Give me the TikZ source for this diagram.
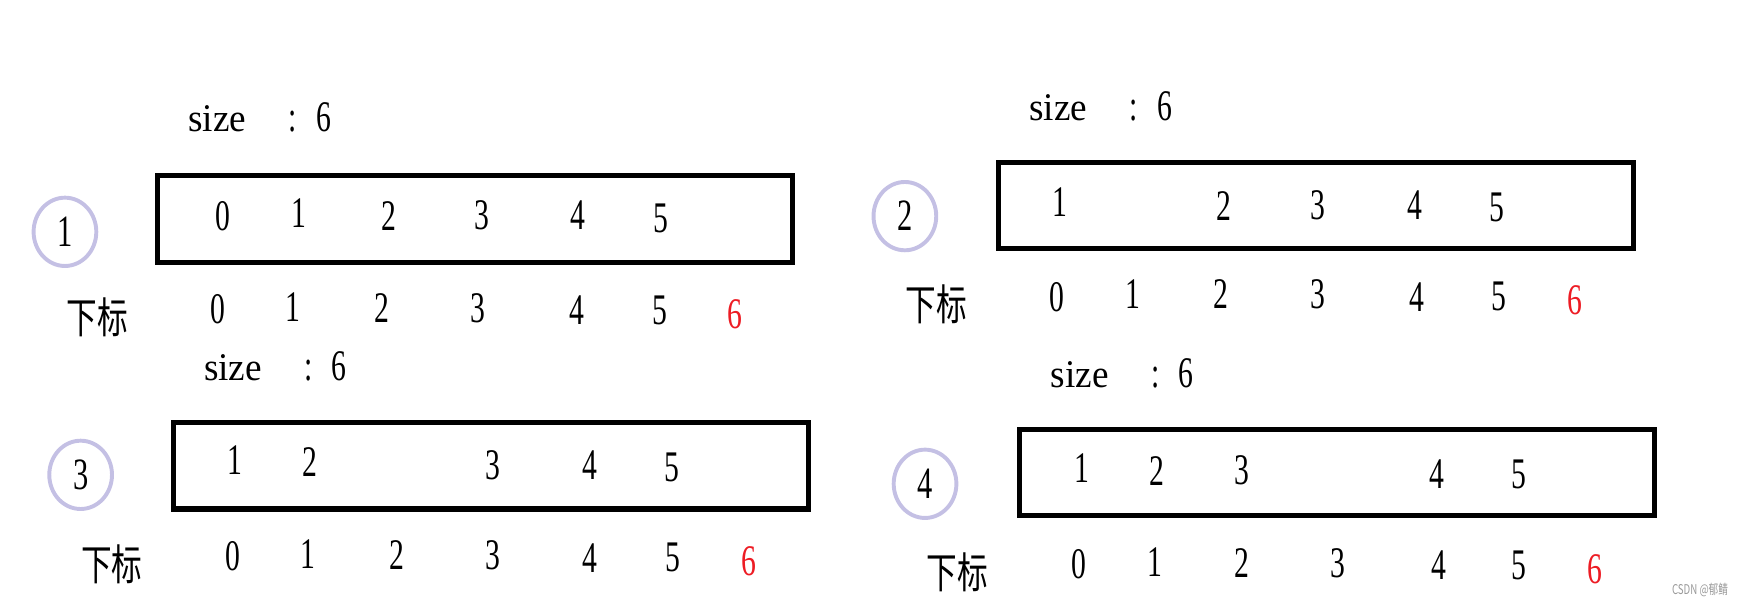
\documentclass[tikz,border=0pt]{standalone}
\usepackage{fontspec}
\usepackage{tikz}
\usetikzlibrary{shapes.geometric}
\newfontfamily\numfont[FakeStretch=0.68]{Liberation Serif}
\newfontfamily\wordfont[FakeStretch=0.95]{Liberation Serif}
\newfontfamily\cjkfont[FakeStretch=0.72]{Noto Sans CJK SC}
\definecolor{lavender}{HTML}{C4C0E4}
\definecolor{outred}{HTML}{ED1C24}
\newcommand{\sizetext}{{\wordfont\fontsize{35}{40}\selectfont size}\hspace{38pt}:\hspace{17pt}6}
\tikzstyle{arr}=[rectangle, draw, line width=4.5pt, minimum width=567pt, minimum height=77pt, inner sep=0pt]
\tikzstyle{tag}=[ellipse, draw=lavender, line width=3.5pt, minimum width=56pt, minimum height=61pt, inner sep=0pt, font=\numfont\fontsize{40}{42}\selectfont]
\tikzstyle{v}=[inner sep=0pt, font=\numfont\fontsize{39}{44}\selectfont]
\tikzstyle{idx}=[inner sep=0pt, font=\numfont\fontsize{39}{44}\selectfont]
\tikzstyle{past}=[idx, text=outred]
\tikzstyle{lbl}=[inner sep=0pt, font=\cjkfont\fontsize{38}{42}\selectfont]
\tikzstyle{len}=[inner sep=0pt, anchor=west, font=\numfont\fontsize{39}{44}\selectfont]
\tikzstyle{wmark}=[inner sep=0pt, text=black!40, font=\cjkfont\fontsize{12}{14}\selectfont]

\begin{document}
\begin{tikzpicture}[x=1pt,y=-1pt]
				\useasboundingbox (0,0) rectangle (1568,541);

				%Step 1
				\draw (168,105) node[len] (len1) {\sizetext};
				\draw (58,207) node[tag] (c1) {1};
				\draw (424.5,195.5) node[arr] (box1) {};
				\draw (199,193) node[v] (a10) {0};
				\draw (267,190) node[v] (a11) {1};
				\draw (347,193) node[v] (a12) {2};
				\draw (430,192) node[v] (a13) {3};
				\draw (516,192) node[v] (a14) {4};
				\draw (590,195) node[v] (a15) {5};
				\draw (87,283) node[lbl] (l1) {下标};
				\draw (195,276) node[idx] (i10) {0};
				\draw (262,274) node[idx] (i11) {1};
				\draw (341,275) node[idx] (i12) {2};
				\draw (427,275) node[idx] (i13) {3};
				\draw (515,277) node[idx] (i14) {4};
				\draw (589,277) node[idx] (i15) {5};
				\draw (656,281) node[past] (i16) {6};

				%Step 2
				\draw (919,95) node[len] (len2) {\sizetext};
				\draw (808,193) node[tag] (c2) {2};
				\draw (1175,183.5) node[arr] (box2) {};
				\draw (946,180) node[v] (a21) {1};
				\draw (1093,184) node[v] (a22) {2};
				\draw (1177,183) node[v] (a23) {3};
				\draw (1263,183) node[v] (a24) {4};
				\draw (1337,185) node[v] (a25) {5};
				\draw (836,272) node[lbl] (l2) {下标};
				\draw (944,265) node[idx] (i20) {0};
				\draw (1012,263) node[idx] (i21) {1};
				\draw (1090,263) node[idx] (i22) {2};
				\draw (1177,263) node[idx] (i23) {3};
				\draw (1265,265) node[idx] (i24) {4};
				\draw (1338,265) node[idx] (i25) {5};
				\draw (1406,268) node[past] (i26) {6};

				%Step 3
				\draw (182,327) node[len] (len3) {\sizetext};
				\draw (72,424) node[tag] (c3) {3};
				\draw (438.5,416) node[arr] (box3) {};
				\draw (210,411) node[v] (a31) {1};
				\draw (277,413) node[v] (a32) {2};
				\draw (440,415) node[v] (a33) {3};
				\draw (527,415) node[v] (a34) {4};
				\draw (600,417) node[v] (a35) {5};
				\draw (100,504) node[lbl] (l3) {下标};
				\draw (208,497) node[idx] (i30) {0};
				\draw (275,495) node[idx] (i31) {1};
				\draw (354,496) node[idx] (i32) {2};
				\draw (440,496) node[idx] (i33) {3};
				\draw (527,498) node[idx] (i34) {4};
				\draw (601,498) node[idx] (i35) {5};
				\draw (669,501) node[past] (i36) {6};

				%Step 4
				\draw (938,333) node[len] (len4) {\sizetext};
				\draw (826,432) node[tag] (c4) {4};
				\draw (1193.5,422) node[arr] (box4) {};
				\draw (966,418) node[v] (a41) {1};
				\draw (1033,421) node[v] (a42) {2};
				\draw (1109,420) node[v] (a43) {3};
				\draw (1283,423) node[v] (a44) {4};
				\draw (1356,424) node[v] (a45) {5};
				\draw (855,511) node[lbl] (l4) {下标};
				\draw (963,504) node[idx] (i40) {0};
				\draw (1031,502) node[idx] (i41) {1};
				\draw (1109,503) node[idx] (i42) {2};
				\draw (1195,503) node[idx] (i43) {3};
				\draw (1285,505) node[idx] (i44) {4};
				\draw (1356,505) node[idx] (i45) {5};
				\draw (1424,508) node[past] (i46) {6};

				\draw (1518,527) node[wmark] (wm) {CSDN @郁鲭};
			\end{tikzpicture}
\end{document}
